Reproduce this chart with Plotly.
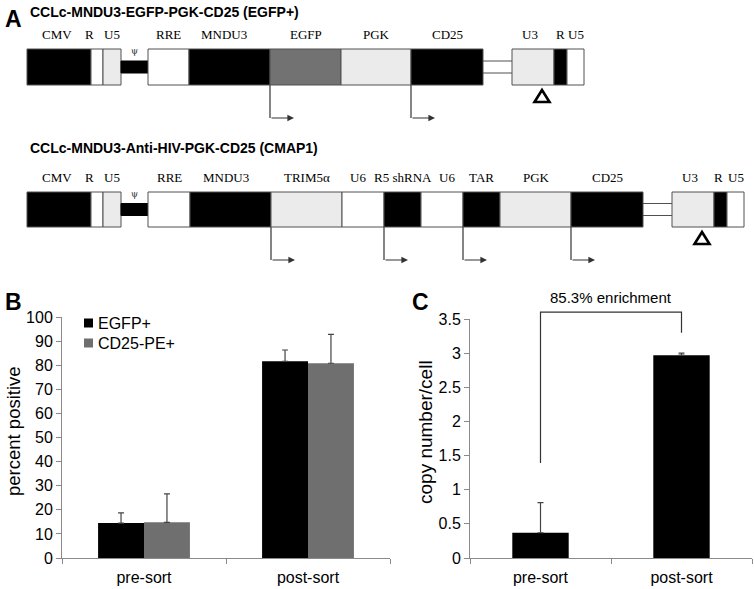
import plotly.graph_objects as go

W, H = 754, 589

# ---------------- DATA ----------------
# Panel B: percent positive
categories = ["pre-sort", "post-sort"]
egfp_pos = [14.5, 81.6]
egfp_err = [4.2, 4.7]
cd25_pos = [14.8, 80.8]
cd25_err = [11.8, 12.0]
series_names = ["EGFP+", "CD25-PE+"]

# Panel C: copy number per cell
copy_num = [0.37, 2.97]
copy_err = [0.44, 0.03]
enrichment_label = "85.3% enrichment"

# Panel A: vector constructs (element names and element boundaries, diagram units)
c1_title = "CCLc-MNDU3-EGFP-PGK-CD25 (EGFP+)"
c1_elements = ["CMV", "R", "U5", "ψ", "RRE", "MNDU3", "EGFP", "PGK", "CD25", "", "U3", "R", "U5"]
c1_edges = [27, 91, 103, 121, 148, 189, 270, 341, 411, 483, 512, 554, 567, 584]

c2_title = "CCLc-MNDU3-Anti-HIV-PGK-CD25 (CMAP1)"
c2_elements = ["CMV", "R", "U5", "ψ", "RRE", "MNDU3", "TRIM5α", "U6", "R5 shRNA", "U6", "TAR",
               "PGK", "CD25", "", "U3", "R", "U5"]
c2_edges = [27, 91, 103, 121, 148, 190, 271, 342, 384, 421, 463, 500, 571, 643, 672, 714, 727, 744]

promoters = ["MNDU3", "PGK", "U6"]

# ---------------- STYLE ----------------
SANS = "Liberation Sans, Arial, sans-serif"
SERIF = "Liberation Serif, Times New Roman, serif"
BLACK = "#000000"
GRAY = "#6f6f6f"
LIGHT = "#ebebeb"
AXIS = "#8a8a8a"
OUTLINE = "#505050"

fills = {"k": BLACK, "w": "#ffffff", "l": LIGHT, "g": "#727272"}
c1_kinds = ["k", "w", "l", "psi", "w", "k", "g", "l", "k", "link", "l", "k", "w"]
c2_kinds = ["k", "w", "l", "psi", "w", "k", "l", "w", "k", "w", "k", "l", "k", "link", "l", "k", "w"]
c1_dx = {0: -2, 1: -8, 5: -6, 10: -3}
c2_dx = {0: -2, 1: -8, 5: -5, 7: -5, 9: 5, 11: 1, 14: -3, 15: -2}


def px(x):
    return x / W


def py(y):
    return 1 - y / H


fig = go.Figure()

err_style = dict(type="data", symmetric=False, arrayminus=[0, 0], color="#444444", thickness=1.2, width=3)
series_colors = [BLACK, GRAY]

fig.add_trace(go.Bar(x=categories, y=egfp_pos, name=series_names[0],
                     marker=dict(color=series_colors[0], line=dict(width=0)),
                     error_y=dict(array=egfp_err, **err_style), xaxis="x", yaxis="y"))
fig.add_trace(go.Bar(x=categories, y=cd25_pos, name=series_names[1],
                     marker=dict(color=series_colors[1], line=dict(width=0)),
                     error_y=dict(array=cd25_err, **err_style), xaxis="x", yaxis="y"))
fig.add_trace(go.Bar(x=categories, y=copy_num, name="copy number", showlegend=False, width=0.4,
                     marker=dict(color=BLACK, line=dict(width=0)),
                     error_y=dict(array=copy_err, **err_style), xaxis="x2", yaxis="y2"))

shapes = []
annotations = []


def add_construct(title, names, edges, kinds, dx, top, bot, title_y):
    mid = (top + bot) / 2.0
    annotations.append(dict(xref="x3", yref="y3", x=28, y=title_y, text=title, showarrow=False,
                            xanchor="left", yanchor="middle",
                            font=dict(family=SANS, size=14, color=BLACK, weight="bold")))
    for i, name in enumerate(names):
        x0, x1 = edges[i], edges[i + 1]
        k = kinds[i]
        if k == "psi":
            shapes.append(dict(type="rect", xref="x3", yref="y3", x0=x0, x1=x1, y0=mid - 6, y1=mid + 6,
                               fillcolor=BLACK, line=dict(color=BLACK, width=1)))
            annotations.append(dict(xref="x3", yref="y3", x=(x0 + x1) / 2, y=mid - 16, text=name,
                                    showarrow=False,
                                    font=dict(family="DejaVu Serif, serif", size=9, color="#333333")))
            continue
        if k == "link":
            for yy in (mid - 6, mid + 6):
                shapes.append(dict(type="line", xref="x3", yref="y3", x0=x0, x1=x1, y0=yy, y1=yy,
                                   line=dict(color=OUTLINE, width=1)))
            continue
        shapes.append(dict(type="rect", xref="x3", yref="y3", x0=x0, x1=x1, y0=top, y1=bot,
                           fillcolor=fills[k], line=dict(color=OUTLINE, width=1)))
        annotations.append(dict(xref="x3", yref="y3", x=(x0 + x1) / 2 + dx.get(i, 0), y=top - 15,
                                text=name, showarrow=False, yanchor="middle",
                                font=dict(family=SERIF, size=13, color=BLACK)))
        if name in promoters:
            ya = bot + 33
            shapes.append(dict(type="line", xref="x3", yref="y3", x0=x1, x1=x1, y0=bot, y1=ya,
                               line=dict(color="#333333", width=1.2)))
            annotations.append(dict(xref="x3", yref="y3", axref="x3", ayref="y3", x=x1 + 24, y=ya,
                                    ax=x1, ay=ya, text="", showarrow=True, arrowhead=2, arrowsize=1.1,
                                    arrowwidth=1.2, arrowcolor="#333333", standoff=0))
        if name == "U3":
            cx = (x0 + x1) / 2 + 9
            shapes.append(dict(type="path", xref="x3", yref="y3",
                               path=f"M {cx - 7.5} {bot + 17} L {cx + 7.5} {bot + 17} L {cx} {bot + 5} Z",
                               fillcolor="white", line=dict(color=BLACK, width=2.6)))


add_construct(c1_title, c1_elements, c1_edges, c1_kinds, c1_dx, 49, 85, 12)
add_construct(c2_title, c2_elements, c2_edges, c2_kinds, c2_dx, 192, 227, 148)

# panel letters
for letter, lx, ly in (("A", 13, 19), ("B", 13, 302), ("C", 421, 302)):
    annotations.append(dict(xref="paper", yref="paper", x=px(lx), y=py(ly), text=letter, showarrow=False,
                            xanchor="center", yanchor="middle",
                            font=dict(family=SANS, size=23, color=BLACK, weight="bold")))

# axis titles
annotations.append(dict(xref="paper", yref="paper", x=px(13), y=py(431), text="percent positive",
                        textangle=-90, showarrow=False, xanchor="center", yanchor="middle",
                        font=dict(family=SANS, size=18.5, color=BLACK)))
annotations.append(dict(xref="paper", yref="paper", x=px(425), y=py(432), text="copy number/cell",
                        textangle=-90, showarrow=False, xanchor="center", yanchor="middle",
                        font=dict(family=SANS, size=19, color=BLACK)))

# legend for panel B (small squares + labels)
for j, (nm, col) in enumerate(zip(series_names, series_colors)):
    cy = 323 + 20 * j
    shapes.append(dict(type="rect", xref="paper", yref="paper", x0=px(84), x1=px(93),
                       y0=py(cy + 4.5), y1=py(cy - 4.5), fillcolor=col, line=dict(width=0)))
    annotations.append(dict(xref="paper", yref="paper", x=px(96), y=py(cy), text=nm, showarrow=False,
                            xanchor="left", yanchor="middle", font=dict(family=SANS, size=16, color=BLACK)))

# enrichment bracket on panel C
C_MAX = 3.5
b_top, b_left, b_right = 3.60, 1.39, 3.30
shapes.append(dict(type="path", xref="x2", yref="y2 domain",
                   path=f"M 0 {b_left / C_MAX} L 0 {b_top / C_MAX} L 1 {b_top / C_MAX} L 1 {b_right / C_MAX}",
                   line=dict(color="#333333", width=1.2)))
annotations.append(dict(xref="x2", yref="y2 domain", x=0.5, y=3.82 / C_MAX, text=enrichment_label,
                        showarrow=False, yanchor="middle", font=dict(family=SANS, size=15, color=BLACK)))

tickfont = dict(family=SANS, size=16, color=BLACK)
ax_common = dict(showline=True, linecolor=AXIS, linewidth=1, ticks="outside", ticklen=5, tickcolor=AXIS,
                 showgrid=False, zeroline=False, tickfont=tickfont, fixedrange=True, automargin=False)

fig.update_layout(
    width=W, height=H,
    margin=dict(l=0, r=0, t=0, b=0, autoexpand=False),
    paper_bgcolor="white", plot_bgcolor="rgba(0,0,0,0)",
    barmode="group", bargap=0.44, bargroupgap=0,
    showlegend=False,
    xaxis=dict(domain=[px(62), px(390)], anchor="y", type="category", range=[-0.5, 1.5],
               tickson="boundaries", ticklabelstandoff=5, **ax_common),
    yaxis=dict(domain=[py(558), py(317)], anchor="x", range=[0, 100], dtick=10, **ax_common),
    xaxis2=dict(domain=[px(470), px(752)], anchor="y2", type="category", range=[-0.5, 1.5],
                tickson="boundaries", ticklabelstandoff=5, **ax_common),
    yaxis2=dict(domain=[py(558), py(319)], anchor="x2", range=[0, 3.5], dtick=0.5, **ax_common),
    xaxis3=dict(domain=[0, 1], range=[0, W], visible=False, anchor="y3", fixedrange=True, automargin=False),
    yaxis3=dict(domain=[0, 1], range=[H, 0], visible=False, anchor="x3", fixedrange=True, automargin=False),
    shapes=shapes,
    annotations=annotations,
)

fig.write_html("out.html", config={"displayModeBar": False},
               post_script="document.body.style.margin='0';document.body.style.overflow='hidden';")
